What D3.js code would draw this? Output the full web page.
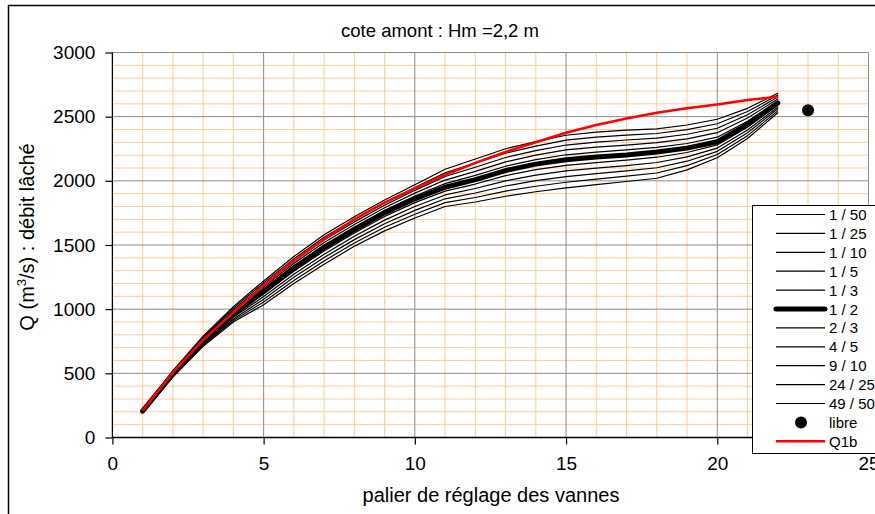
<!DOCTYPE html>
<html>
<head>
<meta charset="utf-8">
<script src="https://cdn.jsdelivr.net/npm/d3@7"></script>
<style>
  html, body { margin: 0; padding: 0; background: #fff; }
  svg { display: block; font-family: "Liberation Sans", Arial, sans-serif; }
</style>
</head>
<body>
<svg id="chart" width="875" height="514"></svg>
<script>
// Gate setting steps (paliers) 1..22
const paliers = [1,2,3,4,5,6,7,8,9,10,11,12,13,14,15,16,17,18,19,20,21,22];

// Released discharge Q (m3/s) per probability level
const q_1_50  = [212,520,790,1020,1220,1410,1580,1720,1850,1970,2090,2170,2250,2305,2355,2380,2395,2405,2435,2480,2565,2683];
const q_1_25  = [211,515,782,1008,1204,1392,1560,1700,1830,1948,2062,2138,2216,2270,2317,2341,2356,2369,2399,2445,2540,2668];
const q_1_10  = [209,510,774,996,1188,1374,1540,1680,1810,1926,2034,2106,2182,2235,2279,2302,2318,2333,2363,2410,2515,2653];
const q_1_5   = [208,505,766,984,1172,1356,1520,1660,1790,1904,2006,2074,2148,2200,2241,2263,2279,2297,2327,2375,2490,2638];
const q_1_3   = [206,500,758,972,1156,1338,1500,1640,1770,1882,1978,2042,2114,2165,2203,2224,2241,2261,2291,2340,2465,2622];
const q_1_2   = [205,495,750,960,1140,1320,1480,1620,1750,1860,1950,2010,2080,2130,2165,2185,2202,2225,2255,2305,2440,2607];
const q_2_3   = [204,490,742,948,1119,1296,1454,1594,1722,1830,1920,1975,2040,2087,2121,2142,2161,2184,2221,2280,2418,2592];
const q_4_5   = [202,485,734,936,1098,1272,1428,1568,1694,1800,1890,1940,2000,2044,2077,2099,2119,2143,2187,2255,2396,2576];
const q_9_10  = [201,480,726,924,1077,1248,1402,1542,1666,1770,1860,1905,1960,2001,2033,2056,2078,2102,2153,2230,2374,2561];
const q_24_25 = [199,475,718,912,1056,1224,1376,1516,1638,1740,1830,1870,1920,1958,1989,2013,2036,2061,2119,2205,2352,2545];
const q_49_50 = [198,470,710,900,1035,1200,1350,1490,1610,1710,1800,1835,1880,1915,1945,1970,1995,2020,2085,2180,2330,2530];

// Q1b reference curve
const q1b = [210,505,760,975,1185,1375,1545,1700,1830,1940,2045,2140,2225,2300,2375,2435,2485,2530,2565,2595,2630,2655];

// Free-flow point ("libre")
const librePalier = 23;
const libreQ = 2550;

const seriesNames = ["1 / 50","1 / 25","1 / 10","1 / 5","1 / 3","1 / 2","2 / 3","4 / 5","9 / 10","24 / 25","49 / 50"];
const seriesValues = [q_1_50,q_1_25,q_1_10,q_1_5,q_1_3,q_1_2,q_2_3,q_4_5,q_9_10,q_24_25,q_49_50];

const xTicks = [0,5,10,15,20,25];
const yTicks = [0,500,1000,1500,2000,2500,3000];

const titleText = "cote amont : Hm =2,2 m";
const xTitle = "palier de réglage des vannes";

const svg = d3.select("#chart");

const x = d3.scaleLinear().domain([0, 25]).range([112.4, 868.5]);
const y = d3.scaleLinear().domain([0, 3000]).range([437.5, 52.5]);

// outer frame
svg.append("rect")
  .attr("x", 8.5).attr("y", 5.5).attr("width", 900).attr("height", 600)
  .attr("fill", "#fff").attr("stroke", "#000").attr("stroke-width", 1.5);

// minor grid (orange)
const grid = svg.append("g");
grid.selectAll("line.mx")
  .data(d3.range(1, 25).filter(v => v % 5 !== 0))
  .join("line")
  .attr("x1", d => x(d)).attr("x2", d => x(d))
  .attr("y1", y(3000)).attr("y2", y(0))
  .attr("stroke", "#FFCC99").attr("stroke-width", 1);
grid.selectAll("line.my")
  .data(d3.range(100, 3000, 100).filter(v => v % 500 !== 0))
  .join("line")
  .attr("x1", x(0)).attr("x2", x(25))
  .attr("y1", d => y(d)).attr("y2", d => y(d))
  .attr("stroke", "#FFCC99").attr("stroke-width", 1);

// major grid (grey)
grid.selectAll("line.Mx")
  .data([5,10,15,20,25])
  .join("line")
  .attr("x1", d => x(d)).attr("x2", d => x(d))
  .attr("y1", y(3000)).attr("y2", y(0))
  .attr("stroke", "#8c8c8c").attr("stroke-width", 1);
grid.selectAll("line.My")
  .data([500,1000,1500,2000,2500,3000])
  .join("line")
  .attr("x1", x(0)).attr("x2", x(25))
  .attr("y1", d => y(d)).attr("y2", d => y(d))
  .attr("stroke", "#8c8c8c").attr("stroke-width", 1);

// axes
const xAxis = d3.axisBottom(x).tickValues(xTicks).tickSize(7).tickPadding(12).tickFormat(d3.format("d"));
const yAxis = d3.axisLeft(y).tickValues(yTicks).tickSize(7).tickPadding(10).tickFormat(d3.format("d"));

const gx = svg.append("g").attr("transform", `translate(0,${y(0)})`).call(xAxis);
const gy = svg.append("g").attr("transform", `translate(${x(0)},0)`).call(yAxis);
[gx, gy].forEach(g => {
  g.select(".domain").attr("stroke", "#000").attr("stroke-width", 1.3);
  g.selectAll(".tick line").attr("stroke", "#000").attr("stroke-width", 1.2);
  g.selectAll(".tick text").attr("fill", "#000")
    .style("font-family", "'Liberation Sans', Arial, sans-serif").style("font-size", "19px");
});
gy.select(".domain").attr("d", `M0,${y(3000)}V${y(0)}`);
gx.select(".domain").attr("d", `M${x(0)},0H${x(25)}`);

// series lines
const line = d3.line().x((d, i) => x(paliers[i])).y(d => y(d));
const plot = svg.append("g");
seriesValues.forEach((vals, k) => {
  plot.append("path")
    .datum(vals)
    .attr("d", line)
    .attr("fill", "none")
    .attr("stroke", "#000")
    .attr("stroke-width", k === 5 ? 5 : 1.2)
    .attr("stroke-linejoin", "round")
    .attr("stroke-linecap", "round");
});

// Q1b
plot.append("path")
  .datum(q1b)
  .attr("d", line)
  .attr("fill", "none")
  .attr("stroke", "#ff0000")
  .attr("stroke-width", 2.6)
  .attr("stroke-linejoin", "round");

// libre point
plot.append("circle")
  .attr("cx", x(librePalier)).attr("cy", y(libreQ)).attr("r", 6)
  .attr("fill", "#000");

// title
svg.append("text")
  .attr("x", 440).attr("y", 37)
  .attr("text-anchor", "middle")
  .style("font-size", "18.5px")
  .text(titleText);

// x title
svg.append("text")
  .attr("x", 491).attr("y", 502)
  .attr("text-anchor", "middle")
  .style("font-size", "20px")
  .text(xTitle);

// y title with superscript
const yt = svg.append("text")
  .attr("transform", `translate(34,237) rotate(-90)`)
  .attr("text-anchor", "middle")
  .style("font-size", "20px");
yt.append("tspan").text("Q (m");
yt.append("tspan").attr("dy", -8).style("font-size", "13px").text("3");
yt.append("tspan").attr("dy", 8).text("/s) : débit lâché");

// legend
const lg = svg.append("g");
const lgX = 752.5, lgY = 205.5, step = 18.9, firstY = 214.5;
lg.append("rect")
  .attr("x", lgX).attr("y", lgY).attr("width", 140).attr("height", 248)
  .attr("fill", "#fff").attr("stroke", "#000").attr("stroke-width", 1);

const legendItems = seriesNames.map((n, k) => ({name: n, type: "line", color: "#000", width: k === 5 ? 5 : 1.2}))
  .concat([{name: "libre", type: "dot"}, {name: "Q1b", type: "line", color: "#ff0000", width: 2.6}]);

legendItems.forEach((it, i) => {
  const cy = firstY + i * step;
  if (it.type === "line") {
    lg.append("line")
      .attr("x1", 776).attr("x2", 825).attr("y1", cy).attr("y2", cy)
      .attr("stroke", it.color).attr("stroke-width", it.width)
      .attr("stroke-linecap", it.width > 3 ? "round" : "butt");
  } else {
    lg.append("circle").attr("cx", 801).attr("cy", cy).attr("r", 6).attr("fill", "#000");
  }
  lg.append("text")
    .attr("x", 829).attr("y", cy + 5.5)
    .style("font-size", "15px")
    .text(it.name);
});
</script>
</body>
</html>
